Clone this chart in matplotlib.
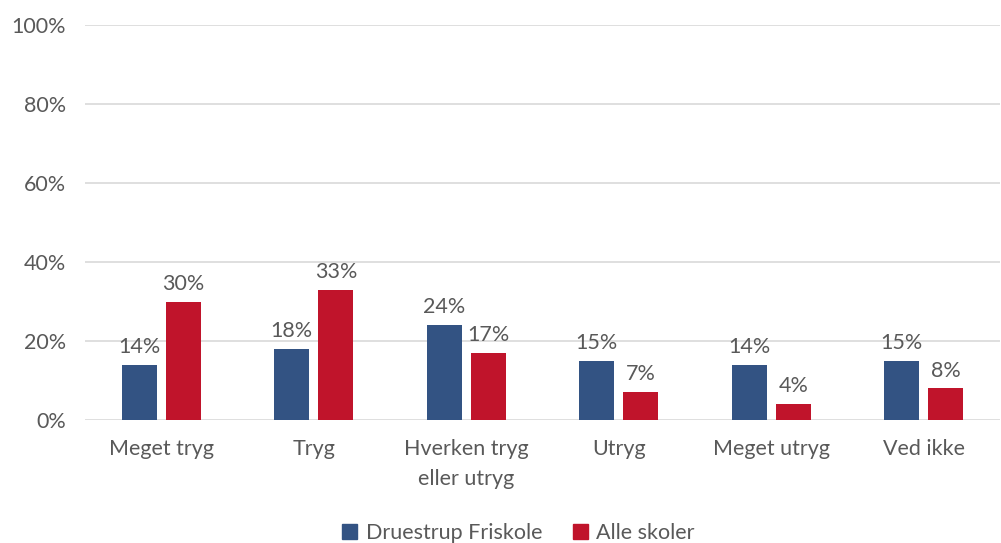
import numpy as np
import matplotlib
from matplotlib import pyplot as plt
from matplotlib.patches import Patch

matplotlib.use('agg')

categories = ["Meget tryg", "Tryg", "Hverken tryg\neller utryg", "Utryg", "Meget utryg", "Ved ikke"]
druestrup = [14, 18, 24, 15, 14, 15]
alle_skoler = [30, 33, 17, 7, 4, 8]
series_names = ["Druestrup Friskole", "Alle skoler"]
y_ticks = [0, 20, 40, 60, 80, 100]

BLUE = "#335383"
RED = "#C0142B"
TEXT = "#595959"
FS = 15.5

plt.rcParams['font.family'] = ['Lato', 'DejaVu Sans']

fig = plt.figure(figsize=(10.01, 5.43), dpi=100)
ax = fig.add_axes([0.085, 0.2265, 0.914, 0.7275])

x = np.arange(len(categories))
width = 0.23
offset = 0.145

bars_b = ax.bar(x - offset, druestrup, width, color=BLUE, zorder=3)
bars_r = ax.bar(x + offset, alle_skoler, width, color=RED, zorder=3)

for bars, vals in ((bars_b, druestrup), (bars_r, alle_skoler)):
    for b, v in zip(bars, vals):
        ax.text(b.get_x() + b.get_width() / 2, v + 2.0, f"{v}%",
                ha='center', va='bottom', fontsize=FS, color=TEXT)

ax.set_xlim(-0.5, len(categories) - 0.5)
ax.set_ylim(0, 100)
ax.set_yticks(y_ticks)
ax.set_yticklabels([f"{t}%" for t in y_ticks])
ax.set_xticks(x)
ax.set_xticklabels(categories, linespacing=1.6)
ax.tick_params(axis='both', length=0, labelsize=FS, labelcolor=TEXT)
ax.tick_params(axis='x', pad=14)
ax.tick_params(axis='y', pad=14)

ax.grid(axis='y', color="#D9D9D9", linewidth=1.2, zorder=0)
for s in ax.spines.values():
    s.set_visible(False)

handles = [Patch(color=BLUE), Patch(color=RED)]
fig.legend(handles, series_names, loc='lower center', bbox_to_anchor=(0.518, -0.035),
           ncol=2, frameon=False, fontsize=FS, labelcolor=TEXT,
           handlelength=0.7, handleheight=0.7, handletextpad=0.4, columnspacing=1.4)

fig.savefig("out.png", dpi=100)
plt.close(fig)
